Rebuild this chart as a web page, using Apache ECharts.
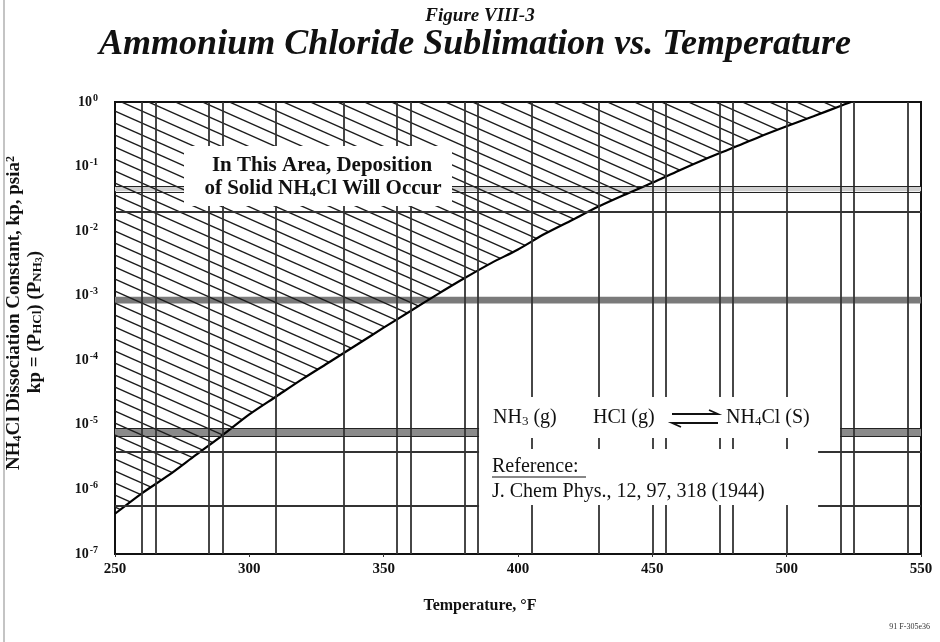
<!DOCTYPE html>
<html><head><meta charset="utf-8">
<script src="https://cdn.jsdelivr.net/npm/echarts@6/dist/echarts.min.js"></script>
<style>html,body{margin:0;padding:0;background:#fff}#c{width:940px;height:642px}</style>
</head><body><div id="c"></div>
<script>
// ---- data ----
const xTickValues = [250, 300, 350, 400, 450, 500, 550];
const yExponents = [-7, -6, -5, -4, -3, -2, -1, 0];
const curveTemp = [250, 260, 270, 280, 290, 300, 310, 320, 330, 340, 350, 360, 370, 380, 390, 400, 410, 420, 430, 440, 450, 460, 470, 480, 490, 500, 510, 520, 524];
const curveKp = [4.2e-7, 8.7e-7, 1.66e-6, 3.4e-6, 6.9e-6, 1.45e-5, 2.75e-5, 5.2e-5, 9.5e-5, 1.74e-4, 3.2e-4, 5.8e-4, 1.05e-3, 1.86e-3, 3.2e-3, 5.2e-3, 9.1e-3, 1.48e-2, 2.4e-2, 3.7e-2, 5.6e-2, 8.7e-2, 0.132, 0.195, 0.29, 0.42, 0.60, 0.87, 1.0];
const vGridTemp = [260, 265, 285, 290, 310, 335, 355, 360, 380, 385, 405, 430, 450, 455, 475, 480, 500, 520, 525, 545];
const hGridFullKp = [0.0197, 6.0e-5];
const hGridPartKp = [3.85e-6, 5.5e-7];
const partLeftEnd = 385.5, partRightStart = 511.7, bandRightStart = 519.9;
const lightBandKp = [0.0414, 0.0495];
const darkBandKp = [7.6e-4, 9.6e-4];
const lowBandKp = [6.6e-6, 8.9e-6];

// ---- rendering ----
const serif = "'Liberation Serif', 'DejaVu Serif', serif";
function hatchCanvas() {
  const W = 27, H = 12;
  const c = document.createElement('canvas');
  c.width = W; c.height = H;
  const g = c.getContext('2d');
  g.strokeStyle = '#1c1c1c'; g.lineWidth = 1.4;
  [-H, 0, H].forEach(off => { g.beginPath(); g.moveTo(0, off); g.lineTo(W, off + H); g.stroke(); });
  return c;
}
const chart = echarts.init(document.getElementById('c'), null, {renderer: 'canvas'});

const gridLineStyle = {color: '#333', width: 1.8, type: 'solid'};
const edge = {color: '#222', width: 1.2};
const markLineData = [];
vGridTemp.forEach(t => markLineData.push({xAxis: t}));
hGridFullKp.forEach(v => markLineData.push({yAxis: v}));
hGridPartKp.forEach(v => {
  markLineData.push([{coord: [250, v]}, {coord: [partLeftEnd, v]}]);
  markLineData.push([{coord: [partRightStart, v]}, {coord: [550, v]}]);
});
[lightBandKp, darkBandKp].forEach(b => b.forEach(v => markLineData.push({yAxis: v, lineStyle: edge})));
lowBandKp.forEach(v => {
  markLineData.push([{coord: [250, v], lineStyle: edge}, {coord: [partLeftEnd, v]}]);
  markLineData.push([{coord: [bandRightStart, v], lineStyle: edge}, {coord: [550, v]}]);
});

const subRich = (size, weight) => ({fontSize: size, fontFamily: serif, fontWeight: weight, verticalAlign: 'bottom'});

const option = {
  animation: false,
  backgroundColor: '#fff',
  grid: {left: 115, right: 19, top: 102, bottom: 88, show: true, borderColor: '#111', borderWidth: 2},
  xAxis: {
    type: 'value', min: 250, max: 550, interval: 50,
    axisLine: {lineStyle: {color: '#111', width: 2}},
    axisTick: {show: true, length: 3, lineStyle: {color: '#333'}},
    splitLine: {show: false},
    axisLabel: {color: '#111', fontFamily: serif, fontWeight: 'bold', fontSize: 15, margin: 8,
      formatter: v => xTickValues.includes(v) ? String(v) : ''}
  },
  yAxis: {
    type: 'log', logBase: 10, min: 1e-7, max: 1, splitNumber: 7,
    axisLine: {show: true, lineStyle: {color: '#111', width: 2}},
    axisTick: {show: false}, minorTick: {show: false},
    splitLine: {show: false},
    axisLabel: {color: '#111', fontFamily: serif, fontWeight: 'bold', fontSize: 14, margin: 17,
      formatter: v => { const e = Math.round(Math.log10(v)); return yExponents.includes(e) ? '10{s|' + (e === 0 ? '0' : '-' + Math.abs(e)) + '}' : ''; },
      rich: {s: {fontSize: 10, fontFamily: serif, fontWeight: 'bold', verticalAlign: 'top', padding: [0, 0, 8, 1]}}}
  },
  series: [
    {
      type: 'line', name: 'grid', data: [], z: 2, silent: true,
      markLine: {silent: true, symbol: 'none', label: {show: false}, lineStyle: gridLineStyle, data: markLineData, animation: false},
      markArea: {silent: true, animation: false, data: [
        [{yAxis: lightBandKp[0], itemStyle: {color: '#cfcfcf'}}, {yAxis: lightBandKp[1]}],
        [{yAxis: darkBandKp[0], itemStyle: {color: '#7a7a7a'}}, {yAxis: darkBandKp[1]}],
        [{coord: [250, lowBandKp[0]], itemStyle: {color: '#8a8a8a'}}, {coord: [partLeftEnd, lowBandKp[1]]}],
        [{coord: [bandRightStart, lowBandKp[0]], itemStyle: {color: '#8a8a8a'}}, {coord: [550, lowBandKp[1]]}]
      ]}
    },
    {
      type: 'line', name: 'kp', z: 3, smooth: 0.3, showSymbol: false, symbol: 'none',
      data: curveTemp.map((t, i) => [t, curveKp[i]]),
      lineStyle: {color: '#000', width: 2.2},
      areaStyle: {origin: 'end', opacity: 1, color: {image: hatchCanvas(), repeat: 'repeat'}}
    }
  ],
  graphic: [
    {type: 'line', z: 100, shape: {x1: 4, y1: 0, x2: 4, y2: 642}, style: {stroke: '#c4c4c4', lineWidth: 2}},
    {type: 'text', z: 100, x: 480, y: 16, style: {text: 'Figure VIII-3', font: "italic bold 19px " + serif, fill: '#111', align: 'center', verticalAlign: 'middle'}},
    {type: 'text', z: 100, x: 475, y: 45, style: {text: 'Ammonium Chloride Sublimation vs. Temperature', font: "italic bold 36px " + serif, fill: '#111', align: 'center', verticalAlign: 'middle'}},
    {type: 'text', z: 100, x: 480, y: 606, style: {text: 'Temperature, °F', font: "bold 16px " + serif, fill: '#111', align: 'center', verticalAlign: 'middle'}},
    {type: 'text', z: 100, x: 930, y: 627, style: {text: '91 F-305e36', font: "8px " + serif, fill: '#333', align: 'right', verticalAlign: 'middle'}},
    {type: 'text', z: 100, x: 14, y: 313, rotation: Math.PI / 2,
      style: {text: 'NH{b|4}Cl Dissociation Constant, kp, psia{t|2}', font: "bold 19px " + serif, fill: '#111', align: 'center', verticalAlign: 'middle',
        rich: {b: subRich(12, 'bold'), t: {fontSize: 12, fontFamily: serif, fontWeight: 'bold', verticalAlign: 'top'}}}},
    {type: 'text', z: 100, x: 35, y: 322, rotation: Math.PI / 2,
      style: {text: 'kp = (P{b|HCl}) (P{b|NH}{c|3})', font: "bold 19px " + serif, fill: '#111', align: 'center', verticalAlign: 'middle',
        rich: {b: subRich(13, 'bold'), c: subRich(10, 'bold')}}},
    // upper note box
    {type: 'rect', z: 90, shape: {x: 184, y: 146, width: 268, height: 60}, style: {fill: '#fff'}},
    {type: 'text', z: 100, x: 322, y: 166, style: {text: 'In This Area, Deposition', font: "bold 21px " + serif, fill: '#111', align: 'center', verticalAlign: 'middle'}},
    {type: 'text', z: 100, x: 323, y: 189, style: {text: 'of Solid NH{b|4}Cl Will Occur', font: "bold 21px " + serif, fill: '#111', align: 'center', verticalAlign: 'middle',
      rich: {b: subRich(13, 'bold')}}},
    // lower note box
    {type: 'rect', z: 90, shape: {x: 484, y: 397, width: 338, height: 41}, style: {fill: '#fff'}},
    {type: 'rect', z: 90, shape: {x: 484, y: 449, width: 334, height: 56}, style: {fill: '#fff'}},
    {type: 'text', z: 100, x: 493, y: 418, style: {text: 'NH{b|3} (g)', font: "20px " + serif, fill: '#111', align: 'left', verticalAlign: 'middle', rich: {b: subRich(13, 'normal')}}},
    {type: 'text', z: 100, x: 593, y: 418, style: {text: 'HCl (g)', font: "20px " + serif, fill: '#111', align: 'left', verticalAlign: 'middle'}},
    {type: 'polyline', z: 100, shape: {points: [[672, 414], [718, 414], [709, 410]]}, style: {stroke: '#111', lineWidth: 1.8, fill: null}},
    {type: 'polyline', z: 100, shape: {points: [[718, 423], [672, 423], [681, 427]]}, style: {stroke: '#111', lineWidth: 1.8, fill: null}},
    {type: 'text', z: 100, x: 726, y: 418, style: {text: 'NH{b|4}Cl (S)', font: "20px " + serif, fill: '#111', align: 'left', verticalAlign: 'middle', rich: {b: subRich(13, 'normal')}}},
    {type: 'text', z: 100, x: 492, y: 467, style: {text: 'Reference:', font: "20px " + serif, fill: '#111', align: 'left', verticalAlign: 'middle'}},
    {type: 'line', z: 100, shape: {x1: 492, y1: 477, x2: 586, y2: 477}, style: {stroke: '#111', lineWidth: 1.2}},
    {type: 'text', z: 100, x: 492, y: 492, style: {text: 'J. Chem Phys., 12, 97, 318 (1944)', font: "20px " + serif, fill: '#111', align: 'left', verticalAlign: 'middle'}}
  ]
};
chart.setOption(option);
</script></body></html>
